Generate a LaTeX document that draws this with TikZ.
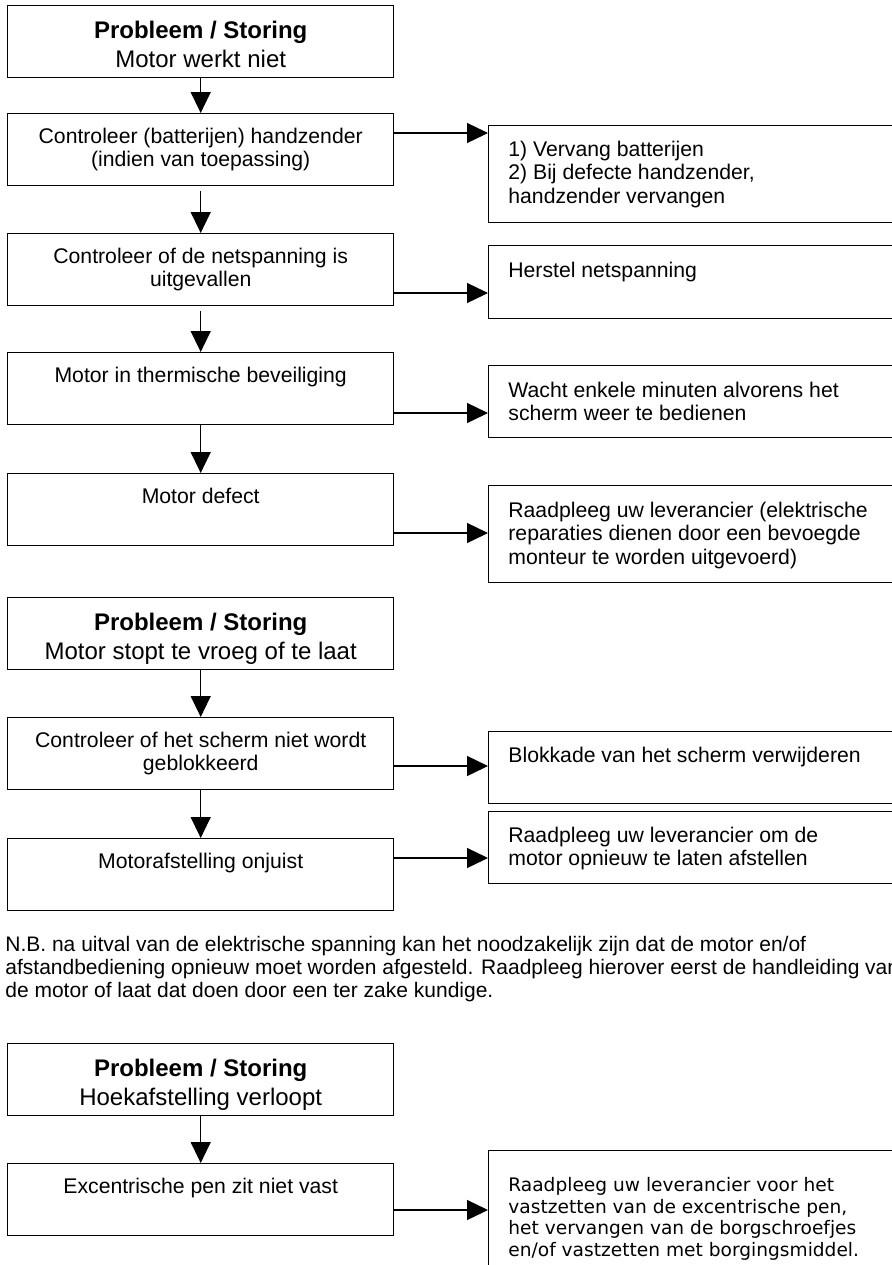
\documentclass[tikz,border=0pt]{standalone}
\usepackage{fontspec}
\setmainfont{Liberation Sans}
\newfontfamily\tahomafont{DejaVu Sans}
\usetikzlibrary{arrows.meta}
\newcommand\mystrutA{\rule{0pt}{9.5pt}}
\tikzset{
  lbox/.style={draw, fill=white, line width=0.7pt, anchor=north west, inner sep=0pt, minimum width=193pt, minimum height=36pt},
  rbox/.style={draw, fill=white, line width=0.7pt, anchor=north west, inner sep=0pt, minimum width=230pt},
  ltext/.style={anchor=north, inner sep=0pt, align=center, font=\fontsize{10.6}{11.5}\selectfont},
  ttext/.style={anchor=north, inner sep=0pt, align=center, font=\fontsize{12}{14.5}\selectfont},
  rtext/.style={anchor=north west, inner sep=0pt, align=left, font=\fontsize{10.6}{11.75}\selectfont},
  arr/.style={-{Triangle[length=10.5pt,width=10pt]}, line width=0.7pt}
}
\begin{document}
\begin{tikzpicture}[x=0.5pt,y=-0.5pt]
\useasboundingbox (0,0) rectangle (892,1265);
\fill[white] (0,0) rectangle (892,1265);
\clip (0,0) rectangle (892,1265);

% left column boxes
\node[lbox] (b1) at (7,5) {};
\node[lbox] (b2) at (7,113) {};
\node[lbox] (b3) at (7,233) {};
\node[lbox] (b4) at (7,352) {};
\node[lbox] (b5) at (7,473) {};
\node[lbox] (b6) at (7,597) {};
\node[lbox] (b7) at (7,717) {};
\node[lbox] (b8) at (7,838) {};
\node[lbox] (b9) at (7,1043) {};
\node[lbox] (b10) at (7,1163) {};

% right column boxes
\node[rbox, minimum height=48.5pt] (r2) at (488,125) {};
\node[rbox, minimum height=36.5pt] (r3) at (488,245) {};
\node[rbox, minimum height=36pt] (r4) at (488,365) {};
\node[rbox, minimum height=48.5pt] (r5) at (488,485) {};
\node[rbox, minimum height=36pt] (r7) at (488,731) {};
\node[rbox, minimum height=36pt] (r8) at (488,811) {};
\node[rbox, minimum height=80pt] (r10) at (488,1150) {};

% left texts
\node[ttext] (t1) at ([yshift=-7pt]b1.north) {\mystrutA\textbf{Probleem / Storing}\\Motor werkt niet};
\node[ltext] (t2) at ([yshift=-5.5pt]b2.north) {\mystrutA Controleer (batterijen) handzender\\(indien van toepassing)};
\node[ltext] (t3) at ([yshift=-5.5pt]b3.north) {\mystrutA Controleer of de netspanning is\\uitgevallen};
\node[ltext] (t4) at ([yshift=-5.5pt]b4.north) {\mystrutA Motor in thermische beveiliging};
\node[ltext] (t5) at ([yshift=-5.5pt]b5.north) {\mystrutA Motor defect};
\node[ttext] (t6) at ([yshift=-7pt]b6.north) {\mystrutA\textbf{Probleem / Storing}\\Motor stopt te vroeg of te laat};
\node[ltext] (t7) at ([yshift=-5.5pt]b7.north) {\mystrutA Controleer of het scherm niet wordt\\geblokkeerd};
\node[ltext] (t8) at ([yshift=-5.5pt]b8.north) {\mystrutA Motorafstelling onjuist};
\node[ttext] (t9) at ([yshift=-7pt]b9.north) {\mystrutA\textbf{Probleem / Storing}\\Hoekafstelling verloopt};
\node[ltext] (t10) at ([yshift=-5.5pt]b10.north) {\mystrutA Excentrische pen zit niet vast};

% right texts
\node[rtext] (s2) at ([xshift=10pt,yshift=-6pt]r2.north west) {\mystrutA 1) Vervang batterijen\\2) Bij defecte handzender,\\handzender vervangen};
\node[rtext] (s3) at ([xshift=10pt,yshift=-6.5pt]r3.north west) {\mystrutA Herstel netspanning};
\node[rtext] (s4) at ([xshift=10pt,yshift=-6.5pt]r4.north west) {\mystrutA Wacht enkele minuten alvorens het\\scherm weer te bedienen};
\node[rtext] (s5) at ([xshift=10pt,yshift=-6.5pt]r5.north west) {\mystrutA Raadpleeg uw leverancier (elektrische\\reparaties dienen door een bevoegde\\monteur te worden uitgevoerd)};
\node[rtext] (s7) at ([xshift=10pt,yshift=-6pt]r7.north west) {\mystrutA Blokkade van het scherm verwijderen};
\node[rtext] (s8) at ([xshift=10pt,yshift=-6pt]r8.north west) {\mystrutA Raadpleeg uw leverancier om de\\motor opnieuw te laten afstellen};
\node[rtext, font=\tahomafont\fontsize{9.3}{10.85}\selectfont] (s10) at ([xshift=10pt,yshift=-11pt]r10.north west) {\mystrutA Raadpleeg uw leverancier voor het\\vastzetten van de excentrische pen,\\het vervangen van de borgschroefjes\\en/of vastzetten met borgingsmiddel.};

% note
\node[anchor=north west, inner sep=0pt, align=left, font=\fontsize{10.5}{11.5}\selectfont] (nb) at (5,932) {\mystrutA N.B. na uitval van de elektrische spanning kan het noodzakelijk zijn dat de motor en/of\\afstandbediening opnieuw moet worden afgesteld. Raadpleeg hierover eerst de handleiding van\\de motor of laat dat doen door een ter zake kundige.};

% vertical arrows
\draw[arr] (b1.south) -- (b2.north);
\draw[arr, shorten <=2.5pt] (b2.south) -- (b3.north);
\draw[arr, shorten <=2.5pt] (b3.south) -- (b4.north);
\draw[arr] (b4.south) -- (b5.north);
\draw[arr] (b6.south) -- (b7.north);
\draw[arr] (b7.south) -- (b8.north);
\draw[arr] (b9.south) -- (b10.north);

% horizontal arrows
\draw[arr] (b2.east |- 0,133) -- (r2.west |- 0,133);
\draw[arr] (b3.east |- 0,293) -- (r3.west |- 0,293);
\draw[arr] (b4.east |- 0,413) -- (r4.west |- 0,413);
\draw[arr] (b5.east |- 0,533) -- (r5.west |- 0,533);
\draw[arr] (b7.east |- 0,766) -- (r7.west |- 0,766);
\draw[arr] (b8.east |- 0,858) -- (r8.west |- 0,858);
\draw[arr] (b10.east |- 0,1210) -- (r10.west |- 0,1210);
\end{tikzpicture}
\end{document}
